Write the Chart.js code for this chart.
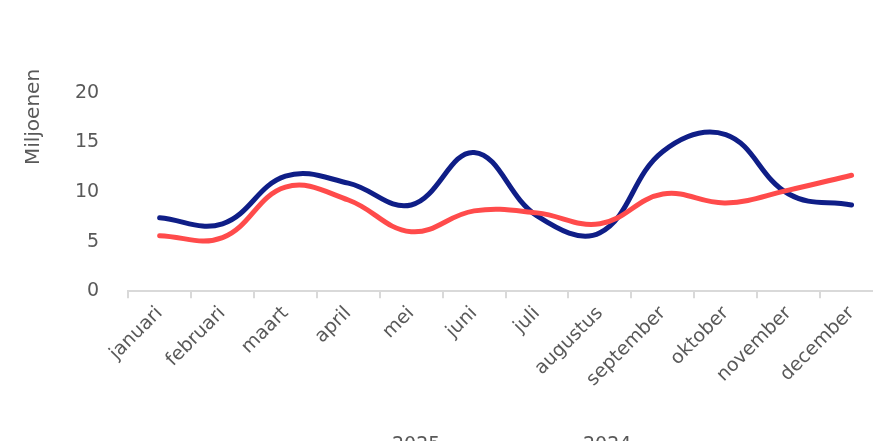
<!DOCTYPE html>
<html>
<head>
<meta charset="utf-8">
<script src="https://cdn.jsdelivr.net/npm/chart.js@4"></script>
<style>
  html, body { margin: 0; padding: 0; background: #fff; overflow: hidden; }
  #wrap { position: relative; width: 890px; height: 441px; }
  #legend { position: absolute; top: 434px; left: 0; width: 890px; font: 19px "DejaVu Sans", sans-serif;
            line-height: 19px; color: #595959; white-space: nowrap; }
  #legend span.item { position: absolute; top: 0; }
  #legend span.swatch { display: inline-block; width: 30px; height: 4px; vertical-align: middle; margin-right: 8px; }
</style>
</head>
<body>
<div id="wrap">
  <canvas id="chart" width="890" height="441"></canvas>
  <div id="legend"></div>
</div>
<script>
const months = ['januari', 'februari', 'maart', 'april', 'mei', 'juni', 'juli', 'augustus', 'september', 'oktober', 'november', 'december'];
const values2025 = [5.6, 5.4, 10.5, 9.2, 6.0, 8.1, 7.9, 6.8, 9.8, 8.9, 10.2, 11.7];
const values2024 = [7.4, 6.8, 11.6, 10.9, 8.7, 14.0, 7.6, 5.9, 14.1, 15.8, 9.8, 8.7];
const yTicks = [0, 5, 10, 15, 20];

const textColor = '#595959';
const fontFamily = '"DejaVu Sans", sans-serif';

// y-axis title sits near the top of the axis, like the original
const axisTitle = {
    id: 'axisTitle',
    afterDraw(chart) {
        const ctx = chart.ctx;
        ctx.save();
        ctx.translate(34, chart.chartArea.top + 24);
        ctx.rotate(-Math.PI / 2);
        ctx.fillStyle = textColor;
        ctx.font = '20px ' + fontFamily;
        ctx.textAlign = 'center';
        ctx.textBaseline = 'middle';
        ctx.fillText('Miljoenen', 0, 0);
        ctx.restore();
    }
};

const chart = new Chart(document.getElementById('chart'), {
    type: 'line',
    data: {
        labels: months,
        datasets: [{
            label: '2025',
            data: values2025,
            borderColor: '#FF4B4B',
            backgroundColor: '#FF4B4B',
            borderWidth: 5,
            tension: 0.4,
            pointRadius: 0,
            borderCapStyle: 'round'
        }, {
            label: '2024',
            data: values2024,
            borderColor: '#0F1E87',
            backgroundColor: '#0F1E87',
            borderWidth: 5,
            tension: 0.4,
            pointRadius: 0,
            borderCapStyle: 'round'
        }]
    },
    options: {
        responsive: false,
        animation: false,
        layout: { padding: { left: 54, right: 7, top: 93, bottom: 46 } },
        plugins: {
            legend: { display: false },
            tooltip: { enabled: false }
        },
        scales: {
            y: {
                min: 0,
                max: 20,
                afterBuildTicks: axis => { axis.ticks = yTicks.map(v => ({ value: v })); },
                grid: { display: false },
                border: { display: false },
                ticks: {
                    color: textColor,
                    font: { family: fontFamily, size: 19 },
                    padding: 21
                }
            },
            x: {
                offset: true,
                grid: {
                    offset: true,
                    drawOnChartArea: false,
                    color: '#D9D9D9',
                    tickLength: 7,
                    lineWidth: 2
                },
                border: { color: '#D9D9D9', width: 2 },
                ticks: {
                    color: textColor,
                    font: { family: fontFamily, size: 19 },
                    minRotation: 45,
                    maxRotation: 45,
                    padding: 4
                }
            }
        }
    },
    plugins: [axisTitle]
});

// legend (cut off at the bottom edge, as in the original)
const legendPos = [354, 545];
const legendEl = document.getElementById('legend');
chart.data.datasets.forEach((ds, i) => {
    const item = document.createElement('span');
    item.className = 'item';
    item.style.left = legendPos[i] + 'px';
    item.innerHTML = '<span class="swatch" style="background:' + ds.borderColor + '"></span>' + ds.label;
    legendEl.appendChild(item);
});
</script>
</body>
</html>
